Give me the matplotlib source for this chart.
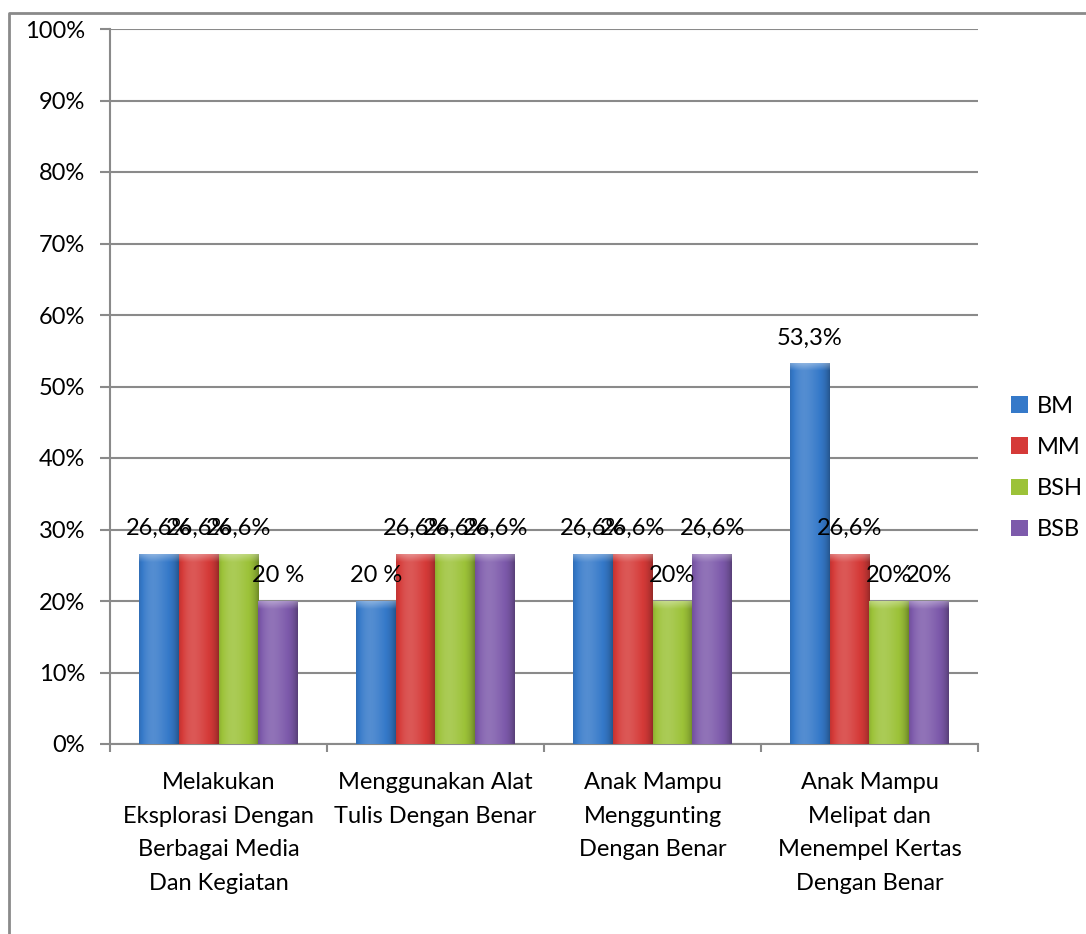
import matplotlib
matplotlib.use("Agg")
import matplotlib.pyplot as plt
import matplotlib.colors as mcolors
import numpy as np
from matplotlib.lines import Line2D
from matplotlib.patches import Patch

plt.rcParams['font.family'] = ['Lato', 'DejaVu Sans']

categories = [
    "Melakukan\nEksplorasi Dengan\nBerbagai Media\nDan Kegiatan",
    "Menggunakan Alat\nTulis Dengan Benar",
    "Anak Mampu\nMenggunting\nDengan Benar",
    "Anak Mampu\nMelipat dan\nMenempel Kertas\nDengan Benar",
]
series = ["BM", "MM", "BSH", "BSB"]
bm = [26.6, 20, 26.6, 53.3]
mm = [26.6, 26.6, 26.6, 26.6]
bsh = [26.6, 26.6, 20, 20]
bsb = [20, 26.6, 26.6, 20]
bm_labels = ["26,6%", "20 %", "26,6%", "53,3%"]
mm_labels = ["26,6%", "26,6%", "26,6%", "26,6%"]
bsh_labels = ["26,6%", "26,6%", "20%", "20%"]
bsb_labels = ["20 %", "26,6%", "26,6%", "20%"]
yticks = [0, 10, 20, 30, 40, 50, 60, 70, 80, 90, 100]

values = [bm, mm, bsh, bsb]
labels = [bm_labels, mm_labels, bsh_labels, bsb_labels]
colors = ["#3579c9", "#d53a38", "#9cc238", "#7d5aab"]

fig = plt.figure(figsize=(10.86, 9.34), dpi=100)
ax = fig.add_axes([110 / 1086, 1 - 744 / 934, 868 / 1086, 715 / 934])

grid_col = "#8a8a8a"
fs = 17

x = np.arange(len(categories))
width = 0.183


def shade(rgb, f):
    rgb = np.array(rgb)
    if f >= 0:
        return rgb + (1 - rgb) * f
    return rgb * (1 + f)


def gradient_bar(bar, color):
    # horizontal shading with a light cap on top, clipped to the bar
    base = mcolors.to_rgb(color)
    xs = np.linspace(0, 1, 60)
    prof = 0.15 * np.exp(-((xs - 0.35) / 0.3) ** 2) - 0.3 * (np.abs(xs - 0.45) / 0.55) ** 4
    h = 200
    img = np.zeros((h, len(xs), 3))
    for j, f in enumerate(prof):
        img[:, j] = shade(base, f)
    x0, y0 = bar.get_x(), bar.get_y()
    w, hh = bar.get_width(), bar.get_height()
    cap_rows = max(2, int(h * 1.2 / max(hh, 1)))
    for i in range(cap_rows):
        t = 1 - i / cap_rows
        img[i] = img[i] + (1 - img[i]) * 0.35 * t
    im = ax.imshow(img, extent=[x0, x0 + w, y0, y0 + hh], aspect="auto",
                   origin="upper", zorder=3, interpolation="bilinear")
    im.set_clip_path(bar)
    bar.set_facecolor("none")


for k, (vals, labs, col) in enumerate(zip(values, labels, colors)):
    offs = (k - 1.5) * width
    bars = ax.bar(x + offs, vals, width, color=col, zorder=3, linewidth=0)
    for b in bars:
        gradient_bar(b, col)
    for xi, v, lab in zip(x + offs, vals, labs):
        ax.annotate(lab, (xi, v), xytext=(0, 18), textcoords="offset points",
                    ha="center", va="center", fontsize=fs, zorder=5)

ax.set_xlim(-0.5, len(categories) - 0.5)
ax.set_ylim(0, 100)
ax.set_yticks(yticks)
ax.set_yticklabels([f"{t}%" for t in yticks], fontsize=fs)
ax.yaxis.grid(True, color=grid_col, linewidth=1.5, zorder=0)
ax.set_axisbelow(True)
ax.tick_params(axis="y", length=7, width=1.5, color=grid_col, pad=11)

ax.set_xticks(np.arange(len(categories) + 1) - 0.5)
ax.set_xticklabels([])
ax.set_xticks(x, minor=True)
ax.set_xticklabels(categories, minor=True, fontsize=fs, linespacing=1.75)
ax.tick_params(axis="x", which="major", length=6, width=1.5, color=grid_col, direction="out")
ax.tick_params(axis="x", which="minor", length=0, pad=20)

for s in ["top", "right"]:
    ax.spines[s].set_visible(False)
for s in ["left", "bottom"]:
    ax.spines[s].set_color(grid_col)
    ax.spines[s].set_linewidth(1.5)

handles = [Patch(facecolor=c, edgecolor="none") for c in colors]
fig.legend(handles, series, loc="center left", bbox_to_anchor=(990 / 1086, 1 - 468 / 934),
           frameon=False, fontsize=fs, handlelength=0.7, handleheight=0.7,
           handletextpad=0.4, labelspacing=0.85)

# outer chart frame
fig.add_artist(Line2D([9 / 1086, 9 / 1086, 1.0], [0.0, 1 - 13 / 934, 1 - 13 / 934],
                      transform=fig.transFigure, color=grid_col, linewidth=2))

fig.savefig("out.png", dpi=100)
